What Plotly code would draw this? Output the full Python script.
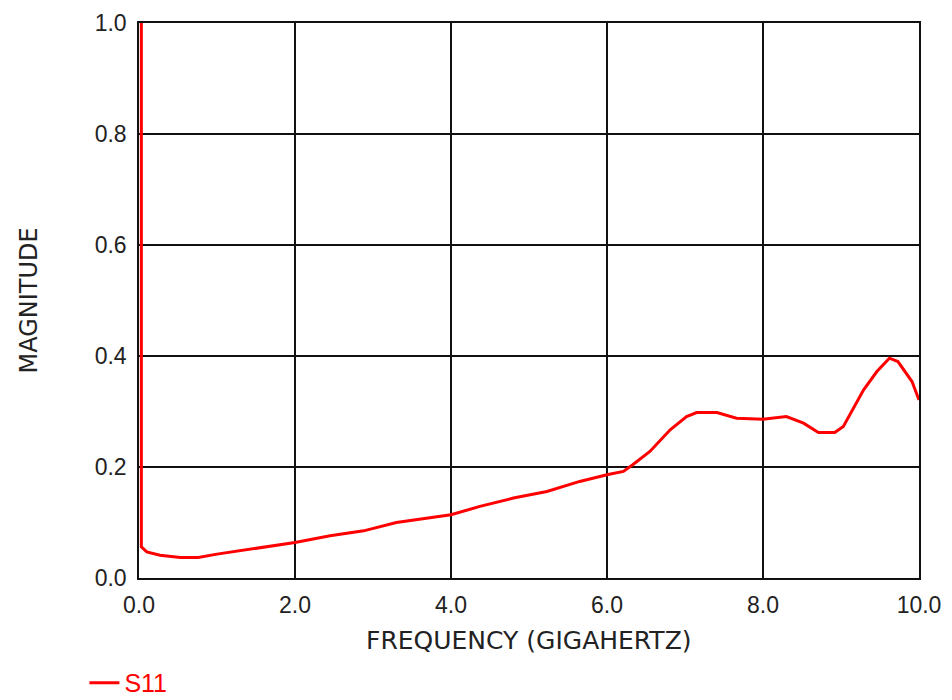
import plotly.graph_objects as go

freq = [0.03, 0.03, 0.10, 0.27, 0.53, 0.76, 1.0, 1.29, 1.64, 2.0, 2.45, 2.88, 3.30, 3.73,
        4.0, 4.37, 4.80, 5.23, 5.65, 6.0, 6.21, 6.33, 6.55, 6.81, 7.02, 7.15, 7.41, 7.66,
        8.0, 8.30, 8.52, 8.71, 8.92, 9.03, 9.16, 9.29, 9.46, 9.62, 9.73, 9.91, 10.0]
s11 = [1.0, 0.056, 0.047, 0.041, 0.037, 0.037, 0.043, 0.049, 0.056, 0.064, 0.076, 0.085,
       0.100, 0.109, 0.114, 0.129, 0.144, 0.156, 0.174, 0.186, 0.192, 0.204, 0.228, 0.267,
       0.291, 0.298, 0.298, 0.288, 0.286, 0.291, 0.279, 0.262, 0.262, 0.273, 0.306, 0.339,
       0.372, 0.396, 0.390, 0.354, 0.321]

x_ticks = [0, 2, 4, 6, 8, 10]
y_ticks = [0, 0.2, 0.4, 0.6, 0.8, 1.0]

FONT = "Liberation Sans, Arial, sans-serif"

fig = go.Figure()
fig.add_trace(go.Scatter(x=freq, y=s11, mode="lines", name="S11",
                         line=dict(color="#ff0000", width=3)))

fig.update_layout(
    width=952, height=700,
    margin=dict(l=139, r=33, t=23, b=122, autoexpand=False),
    paper_bgcolor="white", plot_bgcolor="white",
    font=dict(family=FONT, size=22, color="#222222"),
    showlegend=True,
    legend=dict(orientation="h", x=-0.07, xanchor="left", y=-0.189, yanchor="middle",
                font=dict(family=FONT, size=25, color="#ff0000"),
                bgcolor="rgba(0,0,0,0)"),
    xaxis=dict(range=[0, 10], tickvals=x_ticks, tickformat=".1f",
               showgrid=True, gridcolor="#111111", gridwidth=1.5,
               showline=True, linecolor="#111111", linewidth=1.5, mirror=True,
               zeroline=False, ticks="", ticklabelstandoff=6,
               tickfont=dict(family=FONT, size=23, color="#222222")),
    yaxis=dict(range=[0, 1.0], tickvals=y_ticks, tickformat=".1f",
               showgrid=True, gridcolor="#111111", gridwidth=1.5,
               showline=True, linecolor="#111111", linewidth=1.5, mirror=True,
               zeroline=False, ticks="", ticklabelstandoff=6,
               tickfont=dict(family=FONT, size=23, color="#222222")),
    annotations=[
        dict(text="FREQUENCY (GIGAHERTZ)", xref="paper", yref="paper",
             x=0.5, y=-0.1135, xanchor="center", yanchor="middle", showarrow=False,
             font=dict(family="DejaVu Sans, sans-serif", size=25, color="#222222")),
        dict(text="MAGNITUDE", xref="paper", yref="paper",
             x=-0.1423, y=0.5, xanchor="center", yanchor="middle", textangle=-90,
             showarrow=False,
             font=dict(family="DejaVu Sans, sans-serif", size=24, color="#222222")),
    ],
)

fig.write_html("out.html")
